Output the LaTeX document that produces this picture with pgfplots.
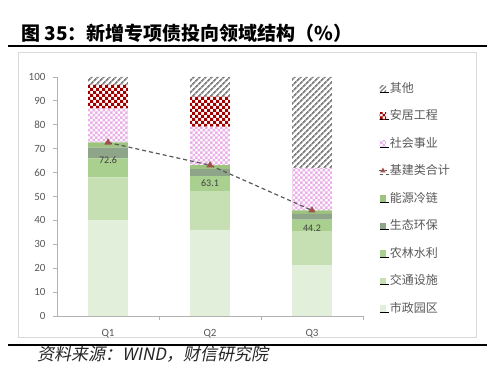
\documentclass[border=0pt]{standalone}
\usepackage{fontspec}
\setmainfont{Carlito}
\newfontfamily\cjk{Noto Sans CJK SC}
\newfontfamily\cjkit[FakeSlant=0.2]{Noto Sans CJK SC}
\usepackage{pgfplots}
\pgfplotsset{compat=1.18}
\usetikzlibrary{patterns,patterns.meta}

\pgfdeclarepatternformonly{bigcheck}{\pgfqpoint{-.1pt}{-.1pt}}{\pgfqpoint{6.1pt}{6.1pt}}{\pgfqpoint{6pt}{6pt}}{%
  \pgfpathrectangle{\pgfqpoint{0pt}{0pt}}{\pgfqpoint{3.05pt}{3.05pt}}%
  \pgfpathrectangle{\pgfqpoint{3pt}{3pt}}{\pgfqpoint{3.05pt}{3.05pt}}%
  \pgfusepath{fill}}
\pgfdeclarepatternformonly{smallcheck}{\pgfqpoint{-.1pt}{-.1pt}}{\pgfqpoint{5.1pt}{5.1pt}}{\pgfqpoint{5pt}{5pt}}{%
  \pgfpathrectangle{\pgfqpoint{0pt}{0pt}}{\pgfqpoint{2.55pt}{2.55pt}}%
  \pgfpathrectangle{\pgfqpoint{2.5pt}{2.5pt}}{\pgfqpoint{2.55pt}{2.55pt}}%
  \pgfusepath{fill}}

\definecolor{shizheng}{HTML}{E2EFDA}
\definecolor{jiaotong}{HTML}{C6E0B4}
\definecolor{nonglin}{HTML}{A9D08E}
\definecolor{shengtai}{HTML}{8EA58A}
\definecolor{nengyuan}{HTML}{9DC37E}
\definecolor{shehui}{HTML}{EBB0E8}
\definecolor{anju}{HTML}{A00000}
\definecolor{qita}{HTML}{808080}
\definecolor{linec}{HTML}{595959}
\definecolor{markc}{HTML}{A0504C}
\definecolor{txt}{HTML}{595959}

\pgfplotsset{
  sq/.style={legend image code/.code={%
      \path (0pt,0pt) -- (9.5pt,0pt);
      \fill[##1, draw=none] (0pt,0.6pt) rectangle (6.5pt,7.1pt);}},
  sqline/.style={legend image code/.code={%
      \path (0pt,0pt) -- (9.5pt,0pt);
      \draw[##1,mark=none] (-1pt,3.85pt) -- (7.5pt,3.85pt);
      \draw[##1,solid] plot coordinates {(3.25pt,3.85pt)};}},
}

\begin{document}
\begin{tikzpicture}[x=1pt,y=1pt]
\useasboundingbox (0,0) rectangle (499,-379);
\fill[white] (0,0) rectangle (499,-379);

% title
\node[anchor=west, inner sep=0pt, text=black] at (21,-33)
  {\cjk\bfseries\fontsize{19}{21}\selectfont 图 35：新增专项债投向领域结构（\%）};
\draw[line width=2pt] (8,-46) -- (487,-46);
% chart frame
\draw[black!15, line width=0.8pt] (18,-52) rectangle (476,-337);
% bottom rule
\draw[line width=2pt] (8,-345.5) -- (487,-345.5);
\node[anchor=west, inner sep=0pt, text=black!85] at (37,-354)
  {\cjkit\fontsize{17}{18}\selectfont 资料来源：WIND，财信研究院};

\begin{axis}[
  at={(57pt,-316pt)}, anchor=south west,
  scale only axis, width=306pt, height=239pt,
  ybar stacked, bar width=0.39,
  xmin=-0.5, xmax=2.5, ymin=0, ymax=100,
  xtick={0,1,2}, xticklabels={Q1,Q2,Q3},
  minor xtick={0.5,1.5,2.5},
  major x tick style={draw=none},
  ytick={0,10,...,100},
  axis x line*=bottom, axis y line*=left,
  axis line style={draw=black!30, line width=0.8pt},
  every tick/.style={draw=black!30, line width=0.8pt},
  tick align=outside, major tick length=4pt, minor tick length=4pt,
  /pgf/number format/assume math mode=true,
  tick label style={font=\fontsize{11}{12}\selectfont, text=txt},
  yticklabel style={xshift=-4pt},
  xticklabel style={yshift=-6pt},
]
\addplot[fill=shizheng, draw=none] coordinates {(0,40) (1,36) (2,21.3)};
\addplot[fill=jiaotong, draw=none] coordinates {(0,18) (1,16) (2,14)};
\addplot[fill=nonglin, draw=none] coordinates {(0,8) (1,6.5) (2,5)};
\addplot[fill=shengtai, draw=none] coordinates {(0,4.5) (1,3) (2,2.4)};
\addplot[fill=nengyuan, draw=none] coordinates {(0,2.1) (1,1.6) (2,1.5)};
\addplot[draw=none, pattern=smallcheck, pattern color=shehui] coordinates {(0,14.3) (1,16.1) (2,17.8)};
\addplot[draw=none, pattern=bigcheck, pattern color=anju] coordinates {(0,9.8) (1,12.6) (2,0)};
\addplot[draw=none, pattern={Lines[angle=45,distance=4pt,line width=1.8pt]}, pattern color=qita] coordinates {(0,3.3) (1,8.2) (2,38)};
\end{axis}

\begin{axis}[
  at={(57pt,-316pt)}, anchor=south west,
  scale only axis, width=306pt, height=239pt,
  xmin=-0.5, xmax=2.5, ymin=0, ymax=100,
  hide axis, clip=false,
  /pgf/number format/.cd, fixed, precision=1, fixed zerofill, assume math mode=true,
  /pgfplots/.cd,
  legend style={at={(axis description cs:1.049,0.975)}, anchor=north west,
    draw=none, fill=none, inner sep=0pt, row sep=16.5pt,
    nodes={inner sep=0pt, text height=9pt, text depth=2pt, anchor=base west},
    font=\cjk\fontsize{12}{13}\selectfont, text=txt},
  legend cell align=left,
]
\addplot[linec, line width=1.2pt, dash pattern=on 4pt off 3pt,
  mark=triangle*, mark size=3pt, mark options={solid, fill=markc, draw=markc},
  nodes near coords, forget plot,
  every node near coord/.append style={anchor=center, yshift=-18pt,
    font=\fontsize{10}{11}\selectfont, text=black!75}]
  coordinates {(0,72.6) (1,63.1) (2,44.2)};

\addlegendimage{sq, pattern={Lines[angle=45,distance=3pt,line width=1.2pt]}, pattern color=qita}
\addlegendentry{其他}
\addlegendimage{sq, pattern=smallcheck, pattern color=anju}
\addlegendentry{安居工程}
\addlegendimage{sq, pattern=smallcheck, pattern color=shehui}
\addlegendentry{社会事业}
\addlegendimage{sqline, linec, dashed, line width=1pt, mark=triangle*, mark size=2.2pt, mark options={fill=markc, draw=markc, solid}}
\addlegendentry{基建类合计}
\addlegendimage{sq, fill=nengyuan}
\addlegendentry{能源冷链}
\addlegendimage{sq, fill=shengtai}
\addlegendentry{生态环保}
\addlegendimage{sq, fill=nonglin}
\addlegendentry{农林水利}
\addlegendimage{sq, fill=jiaotong}
\addlegendentry{交通设施}
\addlegendimage{sq, fill=shizheng}
\addlegendentry{市政园区}
\end{axis}
\end{tikzpicture}
\end{document}
